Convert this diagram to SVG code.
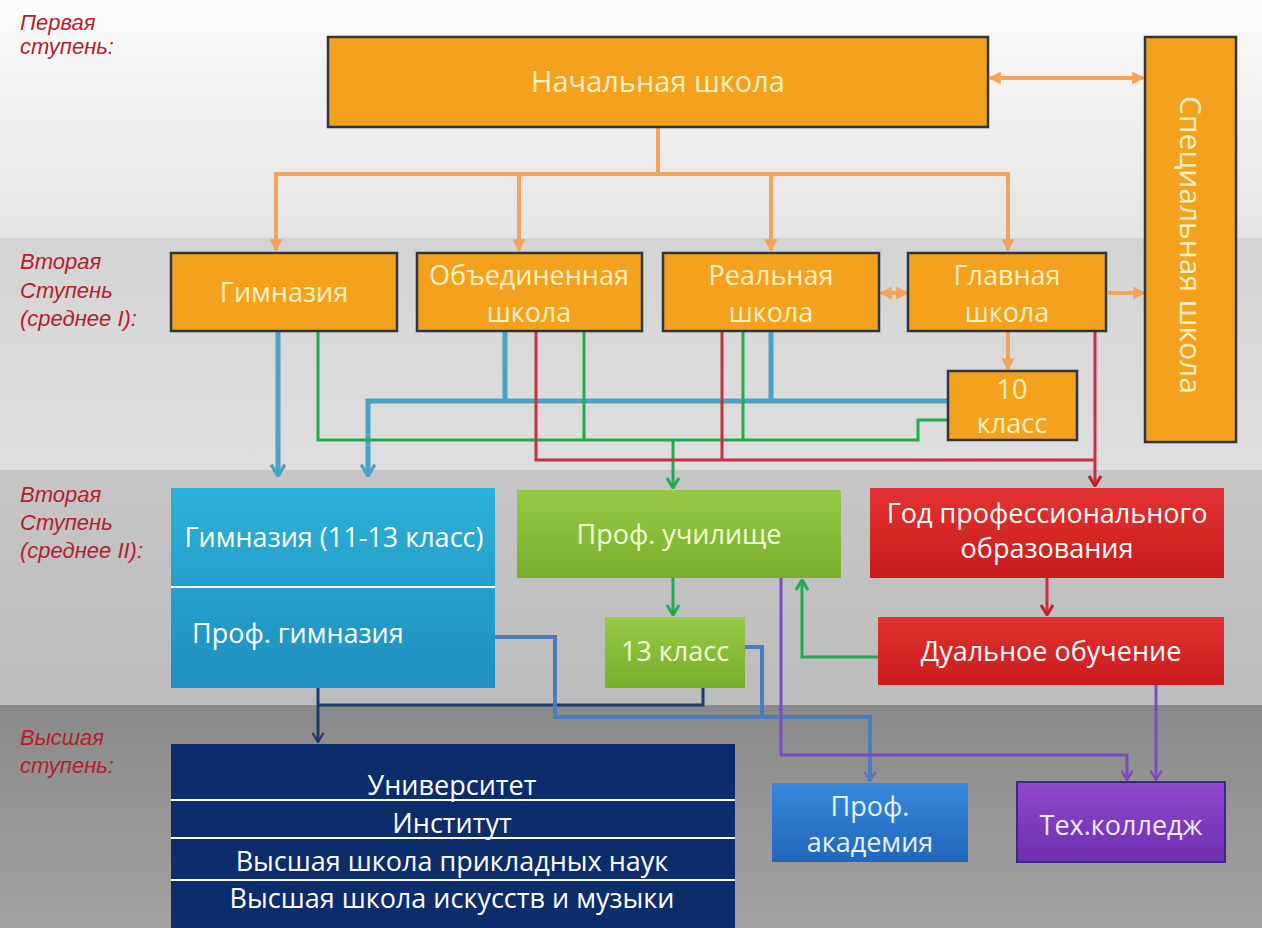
<svg xmlns="http://www.w3.org/2000/svg" width="1262" height="928" viewBox="0 0 1262 928">
<defs>
<style>
.lbl{font-family:"Liberation Sans",Arial,sans-serif;font-style:italic;font-size:22px;fill:#b41e2c}
.bt{font-family:"Open Sans","Liberation Sans",sans-serif;font-size:27px;text-anchor:middle}
.cream{fill:#fff2c4}
.wh{fill:#ffffff}
.orange{fill:#f4a11d;stroke:#2f3540;stroke-width:2.5}
.c{fill:none;stroke-linejoin:miter}
.co{stroke:#f2a35c;stroke-width:4}
.ct{stroke:#4aa3c4;stroke-width:5}
.cg{stroke:#22aa50;stroke-width:3}
.cr{stroke:#c8303e;stroke-width:3}
.cn{stroke:#1d3a70;stroke-width:3}
.cs{stroke:#4c7cc0;stroke-width:4}
.cp{stroke:#7a4cc0;stroke-width:3}
.div{stroke:#ffffff;stroke-width:2}
</style>
<linearGradient id="bg1" x1="0" y1="0" x2="0" y2="1"><stop offset="0" stop-color="#fbfbfb"/><stop offset="1" stop-color="#e4e4e4"/></linearGradient>
<linearGradient id="bg2" x1="0" y1="0" x2="0" y2="1"><stop offset="0" stop-color="#d4d4d4"/><stop offset="1" stop-color="#dedede"/></linearGradient>
<linearGradient id="bg3" x1="0" y1="0" x2="0" y2="1"><stop offset="0" stop-color="#c6c6c6"/><stop offset="1" stop-color="#bcbcbc"/></linearGradient>
<linearGradient id="bg4" x1="0" y1="0" x2="0" y2="1"><stop offset="0" stop-color="#8a8a8a"/><stop offset="1" stop-color="#a2a2a2"/></linearGradient>
<linearGradient id="gTeal" x1="0" y1="0" x2="0" y2="1"><stop offset="0" stop-color="#2cb0d8"/><stop offset="1" stop-color="#1f8fc0"/></linearGradient>
<linearGradient id="gGreen" x1="0" y1="0" x2="0" y2="1"><stop offset="0" stop-color="#96ca45"/><stop offset="1" stop-color="#78ae2c"/></linearGradient>
<linearGradient id="gRed" x1="0" y1="0" x2="0" y2="1"><stop offset="0" stop-color="#e43232"/><stop offset="1" stop-color="#c81c1c"/></linearGradient>
<linearGradient id="gAcad" x1="0" y1="0" x2="0" y2="1"><stop offset="0" stop-color="#3589de"/><stop offset="1" stop-color="#2366ba"/></linearGradient>
<linearGradient id="gPurp" x1="0" y1="0" x2="0" y2="1"><stop offset="0" stop-color="#9147ce"/><stop offset="1" stop-color="#6e2fb0"/></linearGradient>
<marker id="aO" viewBox="0 0 12 12" refX="10" refY="6" markerWidth="13" markerHeight="13" markerUnits="userSpaceOnUse" orient="auto-start-reverse"><path d="M0,0 L12,6 L0,12 z" fill="#f2a35c"/></marker>
<marker id="aT" viewBox="0 0 12 14" refX="11" refY="7" markerWidth="14" markerHeight="16" markerUnits="userSpaceOnUse" orient="auto"><path d="M1,1 L11,7 L1,13" fill="none" stroke="#4aa3c4" stroke-width="3"/></marker>
<marker id="aG" viewBox="0 0 12 14" refX="11" refY="7" markerWidth="12" markerHeight="14" markerUnits="userSpaceOnUse" orient="auto"><path d="M1,1 L11,7 L1,13" fill="none" stroke="#22aa50" stroke-width="3"/></marker>
<marker id="aR" viewBox="0 0 12 14" refX="11" refY="7" markerWidth="12" markerHeight="14" markerUnits="userSpaceOnUse" orient="auto"><path d="M1,1 L11,7 L1,13" fill="none" stroke="#c01e2e" stroke-width="3"/></marker>
<marker id="aN" viewBox="0 0 12 14" refX="11" refY="7" markerWidth="11" markerHeight="13" markerUnits="userSpaceOnUse" orient="auto"><path d="M1,1 L11,7 L1,13" fill="none" stroke="#1d3a70" stroke-width="2.5"/></marker>
<marker id="aS" viewBox="0 0 12 14" refX="11" refY="7" markerWidth="11" markerHeight="13" markerUnits="userSpaceOnUse" orient="auto"><path d="M1,1 L11,7 L1,13" fill="none" stroke="#4c7cc0" stroke-width="2.5"/></marker>
<marker id="aP" viewBox="0 0 12 14" refX="11" refY="7" markerWidth="11" markerHeight="13" markerUnits="userSpaceOnUse" orient="auto"><path d="M1,1 L11,7 L1,13" fill="none" stroke="#7a4cc0" stroke-width="2.5"/></marker>
</defs>

<g id="background">
<rect x="0" y="0" width="1262" height="238" fill="url(#bg1)"/>
<rect x="0" y="238" width="1262" height="232" fill="url(#bg2)"/>
<rect x="0" y="470" width="1262" height="235" fill="url(#bg3)"/>
<rect x="0" y="705" width="1262" height="223" fill="url(#bg4)"/>
</g>

<g id="stage-labels">
<text class="lbl" x="20" y="30">Первая</text>
<text class="lbl" x="20" y="54">ступень:</text>
<text class="lbl" x="20" y="269">Вторая</text>
<text class="lbl" x="20" y="298">Ступень</text>
<text class="lbl" x="20" y="326">(среднее I):</text>
<text class="lbl" x="20" y="502">Вторая</text>
<text class="lbl" x="20" y="530">Ступень</text>
<text class="lbl" x="20" y="558">(среднее II):</text>
<text class="lbl" x="20" y="745">Высшая</text>
<text class="lbl" x="20" y="773">ступень:</text>
</g>

<g id="connectors">
<path class="c co" d="M658,127 V174 H276 V250" marker-end="url(#aO)"/>
<path class="c co" d="M658,174 H1008 V250" marker-end="url(#aO)"/>
<path class="c co" d="M519,174 V250" marker-end="url(#aO)"/>
<path class="c co" d="M771,174 V250" marker-end="url(#aO)"/>
<path class="c co" d="M990,78 H1143" marker-start="url(#aO)" marker-end="url(#aO)"/>
<path class="c co" d="M881,293 H907" marker-start="url(#aO)" marker-end="url(#aO)"/>
<path class="c co" d="M1108,293 H1144" marker-end="url(#aO)"/>
<path class="c co" d="M1008,332 V369" marker-end="url(#aO)"/>

<path class="c ct" d="M278,332 V476" marker-end="url(#aT)"/>
<path class="c ct" d="M505,332 V401"/>
<path class="c ct" d="M771,332 V401"/>
<path class="c ct" d="M948,401 H368 V476" marker-end="url(#aT)"/>

<path class="c cg" d="M318,332 V440 H918 V420 H948"/>
<path class="c cg" d="M584,332 V440"/>
<path class="c cg" d="M743,332 V440"/>
<path class="c cg" d="M673,440 V488" marker-end="url(#aG)"/>
<path class="c cg" d="M673,578 V615" marker-end="url(#aG)"/>
<path class="c cg" d="M878,657 H802 V580" marker-end="url(#aG)"/>

<path class="c cr" d="M536,332 V460 H1095"/>
<path class="c cr" d="M722,332 V460"/>
<path class="c cr" d="M1095,332 V486" marker-end="url(#aR)"/>
<path class="c cr" d="M1047,578 V615" marker-end="url(#aR)"/>

<path class="c cn" d="M318,688 V742" marker-end="url(#aN)"/>
<path class="c cn" d="M318,705 H703 V688"/>

<path class="c cs" d="M495,637 H555 V717 H870 V781" marker-end="url(#aS)"/>
<path class="c cs" d="M745,647 H762 V717"/>

<path class="c cp" d="M781,578 V755 H1127 V780" marker-end="url(#aP)"/>
<path class="c cp" d="M1156,685 V780" marker-end="url(#aP)"/>
</g>

<g id="nachalnaya">
<rect class="orange" x="328" y="37" width="660" height="90"/>
<text class="bt cream" x="658" y="92" style="font-size:29px">Начальная школа</text>
</g>

<g id="specialnaya">
<rect class="orange" x="1145" y="37" width="91" height="405"/>
<text class="bt cream" transform="translate(1190,245) rotate(90)" x="0" y="10" style="font-size:30px">Специальная школа</text>
</g>

<g id="gimnaziya">
<rect class="orange" x="171" y="253" width="226" height="78"/>
<text class="bt cream" x="284" y="302">Гимназия</text>
</g>

<g id="obedinennaya">
<rect class="orange" x="417" y="253" width="225" height="78"/>
<text class="bt cream" x="529" y="285">Объединенная</text>
<text class="bt cream" x="529" y="322">школа</text>
</g>

<g id="realnaya">
<rect class="orange" x="663" y="253" width="216" height="78"/>
<text class="bt cream" x="771" y="285">Реальная</text>
<text class="bt cream" x="771" y="322">школа</text>
</g>

<g id="glavnaya">
<rect class="orange" x="908" y="253" width="198" height="78"/>
<text class="bt cream" x="1007" y="285">Главная</text>
<text class="bt cream" x="1007" y="322">школа</text>
</g>

<g id="klass10">
<rect class="orange" x="948" y="371" width="129" height="69"/>
<text class="bt cream" x="1012" y="399">10</text>
<text class="bt cream" x="1012" y="433">класс</text>
</g>

<g id="gimnaziya-11-13">
<rect x="171" y="488" width="324" height="200" fill="url(#gTeal)"/>
<line class="div" x1="171" y1="587" x2="495" y2="587"/>
<text class="bt wh" x="334" y="547">Гимназия (11-13 класс)</text>
<text class="bt wh" x="192" y="643" style="text-anchor:start">Проф. гимназия</text>
</g>

<g id="prof-uchilishche">
<rect x="517" y="490" width="324" height="88" fill="url(#gGreen)"/>
<text class="bt" x="679" y="544" fill="#f4ffd8">Проф. училище</text>
</g>

<g id="god-prof">
<rect x="870" y="488" width="354" height="90" fill="url(#gRed)"/>
<text class="bt wh" x="1047" y="523">Год профессионального</text>
<text class="bt wh" x="1047" y="558">образования</text>
</g>

<g id="klass13">
<rect x="605" y="617" width="140" height="71" fill="url(#gGreen)"/>
<text class="bt" x="675" y="661" fill="#f4ffd8">13 класс</text>
</g>

<g id="dualnoe">
<rect x="878" y="617" width="346" height="68" fill="url(#gRed)"/>
<text class="bt wh" x="1051" y="661">Дуальное обучение</text>
</g>

<g id="vysshie">
<rect x="171" y="744" width="564" height="184" fill="#0c2c6c"/>
<line class="div" x1="171" y1="800" x2="735" y2="800"/>
<line class="div" x1="171" y1="838" x2="735" y2="838"/>
<line class="div" x1="171" y1="880" x2="735" y2="880"/>
<text class="bt wh" x="452" y="795">Университет</text>
<text class="bt wh" x="452" y="833">Институт</text>
<text class="bt wh" x="452" y="871">Высшая школа прикладных наук</text>
<text class="bt wh" x="452" y="908">Высшая школа искусств и музыки</text>
</g>

<g id="prof-akademiya">
<rect x="772" y="783" width="196" height="79" fill="url(#gAcad)"/>
<text class="bt" x="870" y="816" fill="#e8f2ff">Проф.</text>
<text class="bt" x="870" y="852" fill="#e8f2ff">академия</text>
</g>

<g id="tech-college">
<rect x="1017" y="782" width="208" height="80" fill="url(#gPurp)" stroke="#3a2a80" stroke-width="2"/>
<text class="bt" x="1121" y="835" fill="#f4eaff">Тех.колледж</text>
</g>
</svg>
